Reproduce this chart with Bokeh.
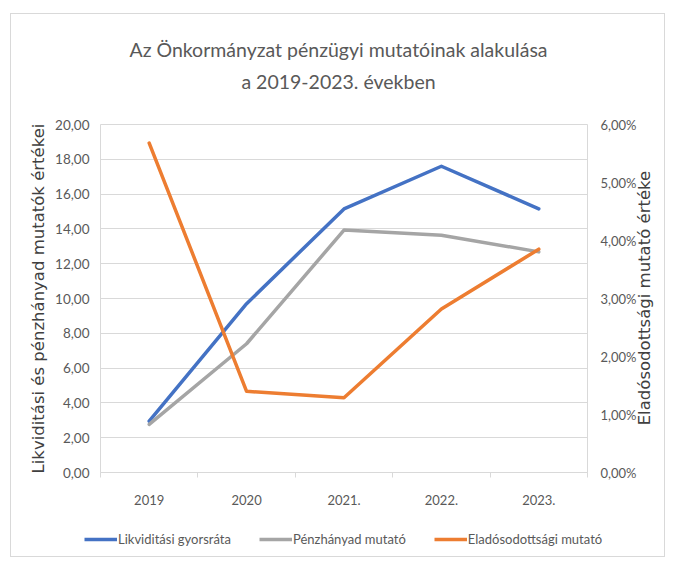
import math
from bokeh.plotting import figure
from bokeh.layouts import column
from bokeh.models import Range1d, LinearAxis, FixedTicker, Legend, LegendItem, Div
from bokeh.embed import file_html
from bokeh.resources import INLINE

years = ["2019", "2020", "2021.", "2022.", "2023."]
likviditasi = [2.95, 9.70, 15.15, 17.60, 15.15]
penzhanyad = [2.77, 7.40, 13.93, 13.64, 12.68]
eladosodottsagi = [5.68, 1.40, 1.29, 2.82, 3.85]  # percent

left_ticks = [0, 2, 4, 6, 8, 10, 12, 14, 16, 18, 20]
left_labels = ["0,00", "2,00", "4,00", "6,00", "8,00", "10,00", "12,00", "14,00", "16,00", "18,00", "20,00"]
right_ticks = [0, 1, 2, 3, 4, 5, 6]
right_labels = ["0,00%", "1,00%", "2,00%", "3,00%", "4,00%", "5,00%", "6,00%"]

title_lines = ["Az Önkormányzat pénzügyi mutatóinak alakulása", "a 2019-2023. években"]
left_title = "Likviditási és pénzhányad mutatók értékei"
right_title = "Eladósodottsági mutató értéke"
series_names = ["Likviditási gyorsráta", "Pénzhányad mutató", "Eladósodottsági mutató"]
colors = ["#4472C4", "#A5A5A5", "#ED7D31"]

x = list(range(1, len(years) + 1))
GRID = "#D9D9D9"
TXT = "#595959"
CAL = "Lato"
AXF = "DejaVu Sans"
BORDER = "1px solid #D9D9D9"

# title block
title_div = Div(
    text=('<div style="width:655px; text-align:center; font-family:Lato; font-size:19.5px; color:#595959; '
          'line-height:32px; padding-top:20px; white-space:nowrap;">'
          + "<br>".join(title_lines) + "</div>"),
    width=655, height=84, margin=(13, 8, 0, 10),
    styles={"border-top": BORDER, "border-left": BORDER, "border-right": BORDER,
            "background-color": "white"})

p = figure(width=655, height=418, x_range=Range1d(0.5, len(years) + 0.5), y_range=Range1d(0, 20),
           output_backend="svg", toolbar_location=None, title=None,
           min_border_left=89, min_border_right=78, min_border_top=27, min_border_bottom=43,
           margin=(0, 8, 0, 10),
           styles={"border-left": BORDER, "border-right": BORDER})
p.extra_y_ranges = {"pct": Range1d(0, 6)}
p.outline_line_color = GRID
p.background_fill_color = "white"
p.border_fill_color = "white"

# x axis
xa = p.xaxis[0]
xa.ticker = FixedTicker(ticks=x, minor_ticks=[i + 0.5 for i in range(0, len(years) + 1)])
xa.major_label_overrides = {i: y for i, y in zip(x, years)}
xa.major_tick_line_color = None
xa.major_tick_out = 0
xa.major_tick_in = 0
xa.minor_tick_line_color = GRID
xa.minor_tick_out = 5
xa.minor_tick_in = 0
xa.axis_line_color = GRID
xa.major_label_standoff = 17
xa.major_label_text_font = CAL
xa.major_label_text_font_size = "13px"
xa.major_label_text_color = TXT
p.xgrid.grid_line_color = None

# left axis
ya = p.yaxis[0]
ya.ticker = FixedTicker(ticks=left_ticks)
ya.major_label_overrides = {t: l for t, l in zip(left_ticks, left_labels)}
ya.axis_line_color = None
ya.major_tick_line_color = None
ya.minor_tick_line_color = None
ya.major_tick_out = 0
ya.major_tick_in = 0
ya.minor_tick_out = 0
ya.major_label_standoff = 11
ya.major_label_text_font = CAL
ya.major_label_text_font_size = "13.5px"
ya.major_label_text_color = TXT
ya.axis_label = left_title
ya.axis_label_text_font = AXF
ya.axis_label_text_font_size = "16.5px"
ya.axis_label_text_font_style = "normal"
ya.axis_label_text_color = "#404040"
ya.axis_label_standoff = 4
p.ygrid.ticker = FixedTicker(ticks=left_ticks)
p.ygrid.grid_line_color = GRID

# right axis
ra = LinearAxis(y_range_name="pct", ticker=FixedTicker(ticks=right_ticks))
ra.major_label_overrides = {t: l for t, l in zip(right_ticks, right_labels)}
ra.axis_line_color = None
ra.major_tick_line_color = None
ra.minor_tick_line_color = None
ra.major_tick_out = 0
ra.major_tick_in = 0
ra.minor_tick_out = 0
ra.major_label_standoff = 13
ra.major_label_text_font = CAL
ra.major_label_text_font_size = "13px"
ra.major_label_text_color = TXT
ra.axis_label = "\u00a0" * 9 + right_title
ra.axis_label_text_font = AXF
ra.axis_label_text_font_size = "16.5px"
ra.axis_label_text_font_style = "normal"
ra.axis_label_text_color = "#404040"
ra.axis_label_standoff = 5
ra.axis_label_orientation = math.pi / 2
ra.axis_label_align = "start"
p.add_layout(ra, "right")

# lines
line_kw = dict(line_width=3.5, line_join="round", line_cap="round")
p.line(x, likviditasi, line_color=colors[0], **line_kw)
p.line(x, penzhanyad, line_color=colors[1], **line_kw)
p.line(x, eladosodottsagi, line_color=colors[2], y_range_name="pct", **line_kw)

# legend strip below the chart (swatch renderers lie outside its own view range)
lf = figure(width=655, height=42, x_range=Range1d(-1, 0), y_range=Range1d(0, 20),
            output_backend="svg", toolbar_location=None, title=None,
            x_axis_type=None, y_axis_type=None,
            min_border=0, min_border_left=0, min_border_right=0, min_border_top=0, min_border_bottom=0,
            margin=(0, 8, 4, 10),
            styles={"border-bottom": BORDER, "border-left": BORDER, "border-right": BORDER})
if "frame_align" in lf.properties():
    lf.frame_align = False
lf.outline_line_color = None
lf.xgrid.grid_line_color = None
lf.ygrid.grid_line_color = None
swatches = [lf.line(x, vals, line_color=c, line_width=3.5)
            for c, vals in zip(colors, [likviditasi, penzhanyad, eladosodottsagi])]
legend = Legend(items=[LegendItem(label=n, renderers=[r]) for n, r in zip(series_names, swatches)],
                orientation="horizontal", location=(73, 10),
                glyph_width=33, glyph_height=14, label_standoff=1, spacing=28,
                padding=0, margin=0, border_line_color=None, background_fill_alpha=0,
                label_text_font=CAL, label_text_font_size="13px", label_text_color=TXT,
                label_height=14)
lf.add_layout(legend, "center")

layout = column(title_div, p, lf, spacing=0)
open("out.html", "w").write(file_html(layout, INLINE))
